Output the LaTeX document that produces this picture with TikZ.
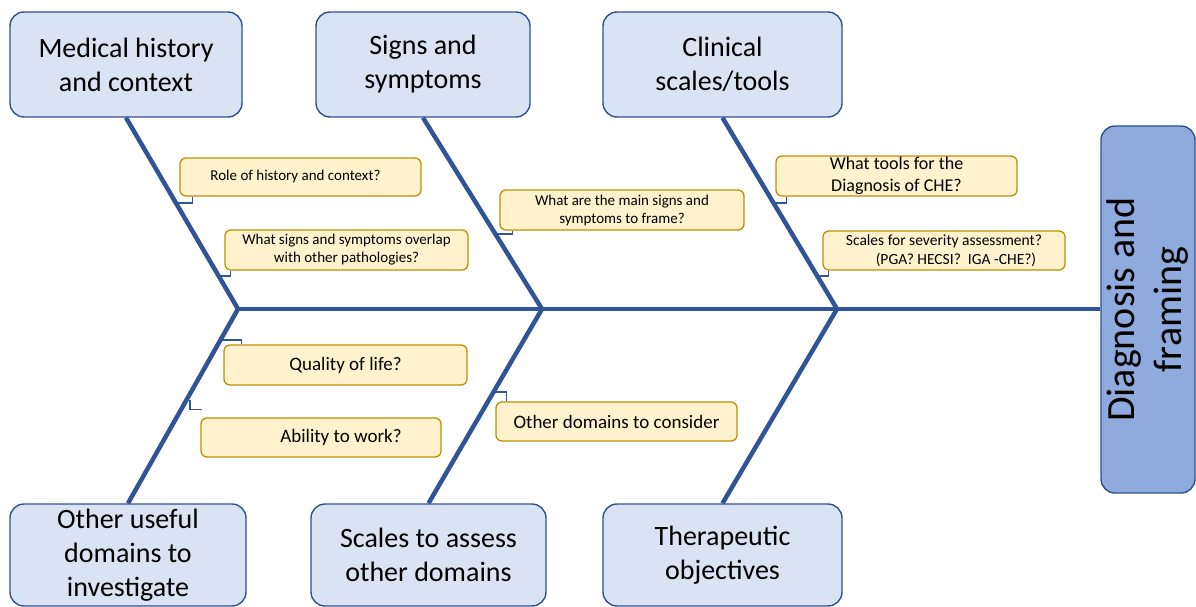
\documentclass[tikz,border=0pt]{standalone}
\usepackage{fontspec}
\setmainfont{Carlito}
\usetikzlibrary{calc}
\definecolor{bonec}{RGB}{47,85,151}
\definecolor{bigfill}{RGB}{218,227,243}
\definecolor{bigdraw}{RGB}{47,82,143}
\definecolor{rightfill}{RGB}{143,170,220}
\definecolor{notefill}{RGB}{255,242,204}
\definecolor{notedraw}{RGB}{191,144,0}
\begin{document}
\begin{tikzpicture}[x=1pt,y=-1pt,
  bigbox/.style={draw=bigdraw, fill=bigfill, line width=1.4pt, rounded corners=14pt,
    align=center, font=\fontsize{28}{34}\selectfont, inner sep=0pt},
  notebox/.style={draw=notedraw, fill=notefill, line width=1.3pt, rounded corners=6pt,
    align=center, inner sep=0pt},
  boneline/.style={draw=bonec, line width=4.5pt},
  tickline/.style={draw=bonec, line width=1.2pt}]
\useasboundingbox (0,0) rectangle (1196,607);
% main boxes
\node[bigbox, minimum width=232pt, minimum height=105pt] (t1) at (126,64.5) {Medical history\\and context};
\node[bigbox, minimum width=214pt, minimum height=105pt] (t2) at (423,64.5) {Signs and\\symptoms};
\node[bigbox, minimum width=239pt, minimum height=105pt] (t3) at (722.5,64.5) {Clinical\\scales/tools};
\node[bigbox, minimum width=236pt, minimum height=102pt] (b1) at (128,555) {Other useful\\domains to\\investigate};
\node[bigbox, minimum width=235pt, minimum height=102pt] (b2) at (428.5,555) {Scales to assess\\other domains};
\node[bigbox, minimum width=239pt, minimum height=102pt] (b3) at (722.5,555) {Therapeutic\\objectives};
\node[bigbox, fill=rightfill, minimum width=94pt, minimum height=367pt] (r) at (1148,309.5) {};
\node[rotate=90, align=center, font=\fontsize{40}{47}\selectfont, inner sep=0pt] (rt) at (r.center) {Diagnosis and\\framing};
% junctions
\coordinate (j1) at (238,309);
\coordinate (j2) at (542,309);
\coordinate (j3) at (837,309);
% bones
\draw[boneline] (j1) -- (r.west |- j1);
\draw[boneline] (t1.south) -- (j1);
\draw[boneline] (t2.south) -- (j2);
\draw[boneline] (t3.south) -- (j3);
\draw[boneline] (j1) -- (b1.north);
\draw[boneline] (j2) -- (b2.north);
\draw[boneline] (j3) -- (b3.north);
% notes
\node[notebox, minimum width=241pt, minimum height=38pt, font=\fontsize{15}{18}\selectfont] (n1) at (300.5,177) {\hspace*{-10pt}Role of history and context?};
\node[notebox, minimum width=243pt, minimum height=40pt, font=\fontsize{15}{18}\selectfont] (n2) at (346.5,250) {What signs and symptoms overlap\\with other pathologies?};
\node[notebox, minimum width=244pt, minimum height=40pt, font=\fontsize{15}{18}\selectfont] (n3) at (622,210) {What are the main signs and\\symptoms to frame?};
\node[notebox, minimum width=241pt, minimum height=40pt, font=\fontsize{18}{22}\selectfont] (n4) at (896.5,176) {What tools for the\\Diagnosis of CHE?};
\node[notebox, minimum width=242pt, minimum height=39pt, font=\fontsize{15.5}{19}\selectfont] (n5) at (944,250.5) {Scales for severity assessment?\\\hspace*{24pt}(PGA? HECSI?\ \ IGA -CHE?)};
\node[notebox, minimum width=243pt, minimum height=40pt, font=\fontsize{19}{23}\selectfont] (n6) at (345.5,365) {Quality of life?};
\node[notebox, minimum width=240pt, minimum height=39pt, font=\fontsize{19}{23}\selectfont] (n7) at (321,437.5) {\hspace*{40pt}Ability to work?};
\node[notebox, minimum width=241pt, minimum height=39pt, font=\fontsize{19}{23}\selectfont] (n8) at (616.5,421.5) {Other domains to consider};
% ticks linking notes to bones
\coordinate (k1) at (177,203);
\coordinate (k2) at (219,276);
\coordinate (k3) at (497,234);
\coordinate (k4) at (774,203);
\coordinate (k5) at (818,276);
\coordinate (k6) at (222,340);
\coordinate (k7) at (190,400);
\coordinate (k8) at (495,392);
\draw[tickline] ($(n1.south west)+(13,0)$) |- (k1);
\draw[tickline] ($(n2.south west)+(6,0)$) |- (k2);
\draw[tickline] ($(n3.south west)+(13,0)$) |- (k3);
\draw[tickline] ($(n4.south west)+(11,0)$) |- (k4);
\draw[tickline] ($(n5.south west)+(6,0)$) |- (k5);
\draw[tickline] ($(n6.north west)+(18,0)$) |- (k6);
\draw[tickline] (k7) |- ($(n7.north west)+(2,-8)$);
\draw[tickline] (k8) -| ($(n8.north west)+(11,0)$);
\end{tikzpicture}
\end{document}
